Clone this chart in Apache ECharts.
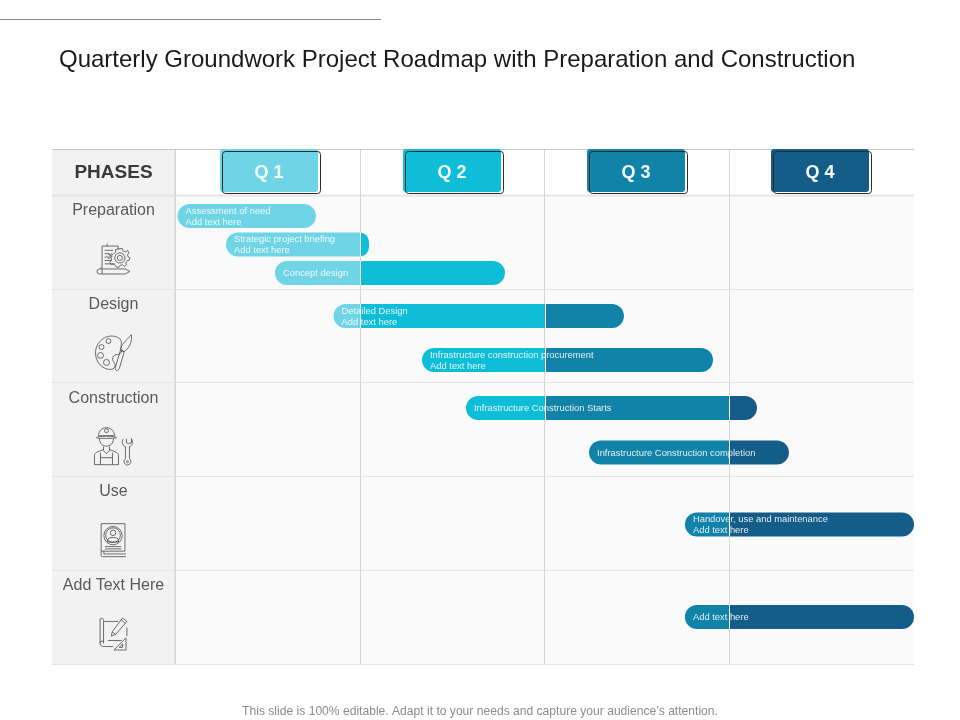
<!DOCTYPE html>
<html>
<head>
<meta charset="utf-8">
<style>html,body{margin:0;padding:0;background:#fff}#main{width:960px;height:720px}</style>
<script src="https://cdn.jsdelivr.net/npm/echarts@6/dist/echarts.min.js"></script>
</head>
<body>
<div id="main"></div>
<script>
const titleText = 'Quarterly Groundwork Project Roadmap with Preparation and Construction';
const footerText = 'This slide is 100% editable. Adapt it to your needs and capture your audience\u2019s attention.';
const headerText = 'PHASES';
const quarters = ['Q 1', 'Q 2', 'Q 3', 'Q 4'];
const quarterColors = ['#6fd5e6', '#0ebdd7', '#1183a8', '#135d88'];
const phases = ['Preparation', 'Design', 'Construction', 'Use', 'Add Text Here'];

// bars: start and end in quarters, row position in phase rows
const barLabels = [
    'Assessment of need\nAdd text here',
    'Strategic project briefing\nAdd text here',
    'Concept design',
    'Detailed Design\nAdd text here',
    'Infrastructure construction procurement\nAdd text here',
    'Infrastructure Construction Starts',
    'Infrastructure Construction completion',
    'Handover, use and maintenance\nAdd text here',
    'Add text here'
];
const barStarts = [0.014, 0.276, 0.541, 0.858, 1.337, 1.575, 2.241, 2.76, 2.76];
const barEnds = [0.763, 1.05, 1.786, 2.43, 2.912, 3.15, 3.323, 4, 4];
const barRows = [0.224, 0.528, 0.832, 1.29, 1.759, 2.271, 2.745, 3.513, 4.499];

// line icons, one per phase, drawn in a 40x40 box
const phaseIcons = [
    'M6 30V4H25V8M6 30H4M12 4V1M9 9H19M9 13H15M9 17H14M9 21H17M9 25H21M13 13L18 16L13 19' +
    'M3 31H33L39 34L33 37H3A3 3 0 0 1 3 31ZM6 31V37' +
    'M27 7L30 7L31 10L34 11L36 9L38 12L36 14L37 17L39 18L38 21L36 21L34 24L35 26L32 28L30 26L27 27L26 29L23 29L22 27L19 25L17 26L15 23L17 21L17 18L15 16L17 13L19 14L22 11L22 8Z' +
    'M27 12A6 6 0 1 0 27.01 12ZM27 15A3 3 0 1 0 27.01 15Z',
    'M24 5C14 0 2 7 1 19C0 30 9 38 17 37C22 36 21 31 19 29C17 26 19 22 23 22C27 22 28 18 27 16C26 13 29 8 24 5Z' +
    'M14 6A2.5 2.5 0 1 0 14.01 6ZM7 12A2.5 2.5 0 1 0 7.01 12ZM6 20A3 3 0 1 0 6.01 20ZM12 27A3 3 0 1 0 12.01 27Z' +
    'M30 19L25 36C24 39 20 39 21 35L26 18ZM26 18C26 12 32 8 37 2C38 8 36 15 30 19Z',
    'M13 1C8 1 5 5 5 9H21C21 5 18 1 13 1ZM3 11C3 9 23 9 23 11C23 12 3 12 3 11ZM6 12C6 22 20 22 20 12M10 20V24L13 27L16 24V20' +
    'M1 38V29C1 26 4 25 10 23M25 38V29C25 26 22 25 16 23M1 38H25M7 26V38M19 26V38M7 31H19' +
    'M11 4A2 2 0 1 0 15 4A2 2 0 1 0 11 4' +
    'M30 12C27 15 30 20 32 20V32M36 20V32M36 20C39 19 40 15 38 12V16L35 17L33 16V12M32 32A3.5 3.5 0 1 0 36 32M34 34A1 1 0 1 0 34.01 34',
    'M4 2H30V32H4ZM4 32V37C4 38 5 38 6 38H31M7 32V35H31' +
    'M17 5A10 10 0 1 0 17.01 5ZM17 6.5A8 8 0 1 0 17.01 6.5' +
    'M17 9A3 3 0 1 0 17.01 9ZM11 20C11 16 23 16 23 20V22H11Z' +
    'M8 27H26M8 29.5H26',
    'M3 2C6 0 7 2 7 5V30M3 2V30C3 33 5 34 7 34H18M3 30C3 27 7 27 7 30M7 5H24M34 12V22' +
    'M29 1L34 5L21 20L16 22L17 17ZM27 3L32 7M17 17L21 20M12 27H28' +
    'M33 24V38H19ZM29 31V35H25Z'
];
const iconSizes = [33, 36, 38, 33, 32];

// drawing sizes and colours
const rowTop = 195, rowBottom = 664, headTop = 150;
const phaseLeft = 52, timeLeft = 175, timeRight = 914;
const barHeight = 24;
const lineColor = '#d6d6d6';

function headAxes(gridIndex, max) {
    return {
        x: { type: 'value', gridIndex: gridIndex, min: 0, max: max, interval: 1, axisLine: { show: false }, axisTick: { show: false }, axisLabel: { show: false }, splitLine: { show: max > 1, showMaxLine: false, lineStyle: { color: lineColor } } },
        y: { type: 'value', gridIndex: gridIndex, min: 0, max: 1, inverse: true, axisLine: { show: false }, axisTick: { show: false }, axisLabel: { show: false }, splitLine: { show: false } }
    };
}

function bodyAxes(gridIndex, max) {
    const a = headAxes(gridIndex, max);
    a.y.max = phases.length;
    a.y.interval = 1;
    a.y.splitLine = { show: true, lineStyle: { color: '#e4e4e4' } };
    return a;
}

// 0 timeline body, 1 timeline header, 2 phase column body, 3 phase column header
const allAxes = [bodyAxes(0, quarters.length), headAxes(1, quarters.length), bodyAxes(2, 1), headAxes(3, 1)];

function renderBar(params, api) {
    const i = params.dataIndex;
    const start = api.value(0), end = api.value(1), row = api.value(2);
    const p0 = api.coord([start, row]);
    const p1 = api.coord([end, row]);
    const top = p0[1] - barHeight / 2;
    const r = barHeight / 2;
    const first = Math.floor(start);
    const last = Math.min(Math.ceil(end) - 1, quarters.length - 1);
    const children = [];
    const cuts = [];
    for (let q = first; q <= last; q++) {
        const x0 = q === first ? p0[0] : api.coord([q, row])[0];
        const x1 = q === last ? p1[0] : api.coord([q + 1, row])[0];
        children.push({
            type: 'rect',
            shape: { x: x0, y: top, width: x1 - x0, height: barHeight, r: [q === first ? r : 0, q === last ? r : 0, q === last ? r : 0, q === first ? r : 0] },
            style: { fill: quarterColors[q] }
        });
        if (q > first) cuts.push(Math.round(x0) + 0.5);
    }
    children.push({
        type: 'text',
        style: { text: barLabels[i], x: p0[0] + 8, y: p0[1] + 0.5, verticalAlign: 'middle', fill: 'rgba(255,255,255,0.88)', font: '9.4px "Liberation Sans", Arial, sans-serif', lineHeight: 11 }
    });
    // the quarter boundary shows through as a thin pale line over bar and text
    cuts.forEach(function (x) {
        children.push({ type: 'line', shape: { x1: x, y1: top, x2: x, y2: top + barHeight }, style: { stroke: '#fff', lineWidth: 1 } });
    });
    return { type: 'group', children: children };
}

function renderQuarter(params, api) {
    const q = api.value(0);
    const c = api.coord([q + 0.5, 0.5]);
    const w = 98, h = 43;
    // the boxes sit slightly closer together than the quarter columns
    const x = Math.round(c[0] - w / 2 + 1.5 - q * 1.2), y = Math.round(c[1] - h / 2 - 2);
    return {
        type: 'group',
        children: [
            { type: 'rect', shape: { x: x, y: y, width: w, height: h, r: 3 }, style: { fill: quarterColors[q] } },
            { type: 'rect', shape: { x: x + 2.5, y: y + 2.5, width: w, height: h - 1, r: 3 }, style: { fill: 'none', stroke: '#2b2b2b', lineWidth: 1 } },
            { type: 'text', style: { text: quarters[q], x: x + w / 2, y: c[1] + 0.5, align: 'center', verticalAlign: 'middle', fill: '#f2fbfd', font: 'bold 18px "Liberation Sans", Arial, sans-serif' } }
        ]
    };
}

function renderPhase(params, api) {
    const i = api.value(0);
    const top = api.coord([0.5, i]);
    const mid = api.coord([0.5, i + 0.68]);
    const s = iconSizes[i];
    return {
        type: 'group',
        children: [
            { type: 'text', style: { text: phases[i], x: top[0], y: top[1] + 15.5, align: 'center', verticalAlign: 'middle', fill: '#5a5a5a', font: '16px "Liberation Sans", Arial, sans-serif' } },
            { type: 'path', shape: { pathData: phaseIcons[i], layout: 'center', x: mid[0] - s / 2, y: mid[1] - s / 2, width: s, height: s }, style: { fill: 'none', stroke: '#4a4a4a', lineWidth: 0.8 } }
        ]
    };
}

function renderHeader(params, api) {
    const c = api.coord([0.5, 0.5]);
    return { type: 'text', style: { text: headerText, x: c[0], y: c[1] + 0.5, align: 'center', verticalAlign: 'middle', fill: '#3a3a3a', font: 'bold 19px "Liberation Sans", Arial, sans-serif' } };
}

const chart = echarts.init(document.getElementById('main'));
const option = {
    backgroundColor: '#fff',
    animation: false,
    title: [
        { text: titleText, left: 54, top: 43, textStyle: { color: '#1a1a1a', fontWeight: 'normal', fontSize: 24, fontFamily: '"Liberation Sans", Arial, sans-serif' } },
        { text: footerText, left: 'center', top: 701, textStyle: { color: '#8c8c8c', fontWeight: 'normal', fontSize: 12.1, fontFamily: '"Liberation Sans", Arial, sans-serif' } }
    ],
    grid: [
        { left: timeLeft, width: timeRight - timeLeft, top: rowTop, height: rowBottom - rowTop, show: true, borderWidth: 0, backgroundColor: '#fafafa' },
        { left: timeLeft, width: timeRight - timeLeft, top: headTop, height: rowTop - headTop, show: true, borderWidth: 0, backgroundColor: '#fff' },
        { left: phaseLeft, width: timeLeft - phaseLeft, top: rowTop, height: rowBottom - rowTop, show: true, borderWidth: 0, backgroundColor: '#f2f2f2' },
        { left: phaseLeft, width: timeLeft - phaseLeft, top: headTop, height: rowTop - headTop, show: true, borderWidth: 0, backgroundColor: '#f2f2f2' }
    ],
    xAxis: allAxes.map(function (a) { return a.x; }),
    yAxis: allAxes.map(function (a) { return a.y; }),
    series: [
        {
            type: 'custom',
            xAxisIndex: 0,
            yAxisIndex: 0,
            clip: false,
            renderItem: renderBar,
            encode: { x: [0, 1], y: 2 },
            data: barStarts.map(function (s, i) { return [s, barEnds[i], barRows[i]]; })
        },
        {
            type: 'custom',
            xAxisIndex: 1,
            yAxisIndex: 1,
            clip: false,
            renderItem: renderQuarter,
            data: quarters.map(function (q, i) { return [i]; })
        },
        {
            type: 'custom',
            xAxisIndex: 2,
            yAxisIndex: 2,
            clip: false,
            renderItem: renderPhase,
            data: phases.map(function (p, i) { return [i]; })
        },
        {
            type: 'custom',
            xAxisIndex: 3,
            yAxisIndex: 3,
            clip: false,
            renderItem: renderHeader,
            data: [[0]]
        }
    ],
    // frame lines around the table and the rule at the top of the slide
    graphic: [
        { type: 'line', shape: { x1: 0, y1: 19.5, x2: 381, y2: 19.5 }, style: { stroke: '#8a8a8a', lineWidth: 1 } },
        { type: 'line', shape: { x1: phaseLeft, y1: headTop - 0.5, x2: timeRight, y2: headTop - 0.5 }, style: { stroke: '#c8c8c8', lineWidth: 1 } },
        { type: 'line', shape: { x1: phaseLeft, y1: rowTop + 0.5, x2: timeRight, y2: rowTop + 0.5 }, style: { stroke: '#cfcfcf', lineWidth: 1.5 } },
        { type: 'line', shape: { x1: phaseLeft, y1: rowBottom + 0.5, x2: timeRight, y2: rowBottom + 0.5 }, style: { stroke: '#c4c4c4', lineWidth: 1 } },
        { type: 'line', shape: { x1: timeLeft, y1: headTop, x2: timeLeft, y2: rowBottom }, style: { stroke: lineColor, lineWidth: 1 } }
    ]
};

chart.setOption(option);
</script>
</body>
</html>
